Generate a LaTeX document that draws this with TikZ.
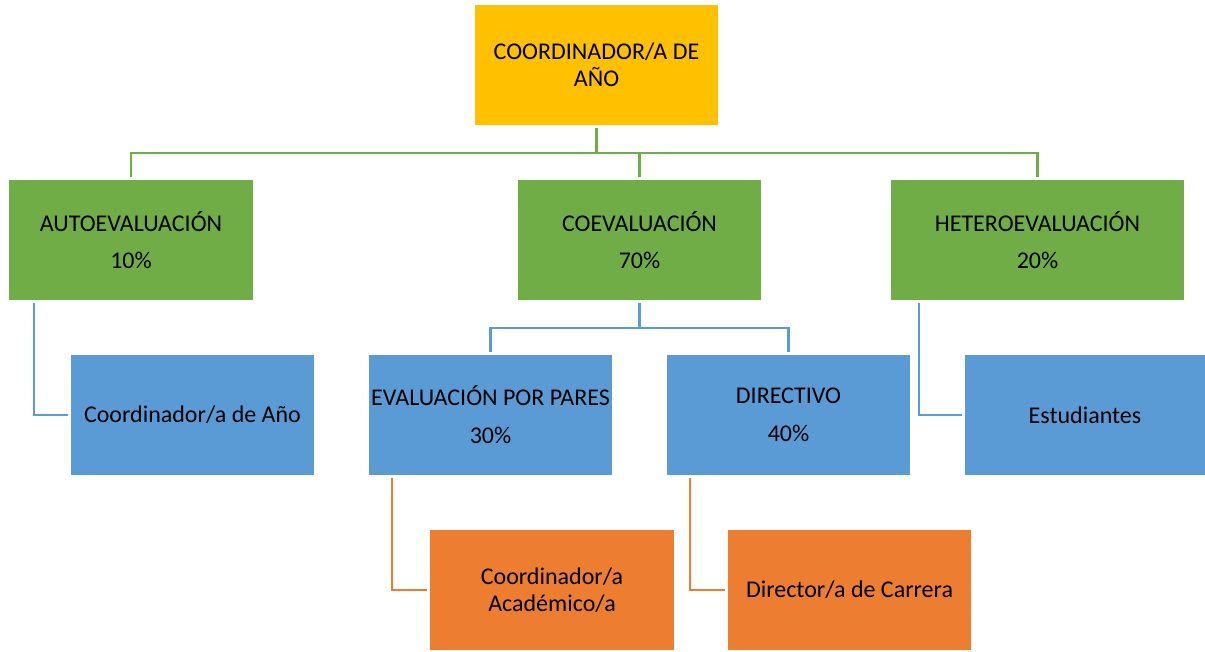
\documentclass[tikz,border=0pt]{standalone}
\usepackage{fontspec}
\setmainfont{Carlito}
\definecolor{cyellow}{HTML}{FFC000}
\definecolor{cgreen}{HTML}{70AD47}
\definecolor{cblue}{HTML}{5B9BD5}
\definecolor{corange}{HTML}{ED7D31}
\begin{document}
\begin{tikzpicture}[x=1pt,y=-1pt,
  box/.style={rectangle, inner sep=0pt, minimum height=120pt, align=center,
    font=\fontsize{24}{27}\selectfont, text=black},
  ybox/.style={box, fill=cyellow, minimum width=243pt},
  gbox/.style={box, fill=cgreen, minimum width=244pt},
  bbox/.style={box, fill=cblue, minimum width=243pt},
  obox/.style={box, fill=corange, minimum width=243pt},
  conn/.style={line width=2.5pt, shorten <=3pt, shorten >=3pt},
  gline/.style={conn, draw=cgreen},
  bline/.style={conn, draw=cblue},
  oline/.style={conn, draw=corange}]
\useasboundingbox (0,0) rectangle (1205,651);
% level 0
\node[ybox] (top) at (596.5,65) {COORDINADOR/A DE\\AÑO};
% level 1
\node[gbox] (auto) at (131,240) {AUTOEVALUACIÓN\\[10pt]10\%};
\node[gbox, minimum width=243pt] (co) at (639.5,240) {COEVALUACIÓN\\[10pt]70\%};
\node[gbox, minimum width=293pt] (hetero) at (1037.5,240) {HETEROEVALUACIÓN\\[10pt]20\%};
% level 2
\node[bbox] (cano) at (192.5,415) {Coordinador/a de Año};
\node[bbox] (pares) at (490.5,415) {EVALUACIÓN POR PARES\\[11pt]30\%};
\node[bbox] (dir) at (788.5,415) {DIRECTIVO\\[11pt]40\%};
\node[bbox, minimum width=240pt] (est) at (1085,415) {Estudiantes};
% level 3
\node[obox, minimum width=244pt] (acad) at (552,590) {Coordinador/a\\Académico/a};
\node[obox] (carr) at (849.5,590) {Director/a de Carrera};
% buses
\coordinate (gbus) at (0,153);
\coordinate (bbus) at (0,328);
% green connectors
\draw[gline, shorten >=0pt] (top.south) -- (top.south |- gbus);
\draw[gline] (auto.north) -- (auto.north |- gbus) -- (hetero.north |- gbus) -- (hetero.north);
\draw[gline, shorten <=0pt] (co.north |- gbus) -- (co.north);
% blue connectors
\draw[bline, shorten >=0pt] (co.south) -- (co.south |- bbus);
\draw[bline] (pares.north) -- (pares.north |- bbus) -- (dir.north |- bbus) -- (dir.north);
\draw[bline] ([xshift=25pt]auto.south west) |- (cano.west);
\draw[bline] ([xshift=28pt]hetero.south west) |- (est.west);
% orange connectors
\draw[oline] ([xshift=23pt]pares.south west) |- (acad.west);
\draw[oline] ([xshift=23pt]dir.south west) |- (carr.west);
\end{tikzpicture}
\end{document}
